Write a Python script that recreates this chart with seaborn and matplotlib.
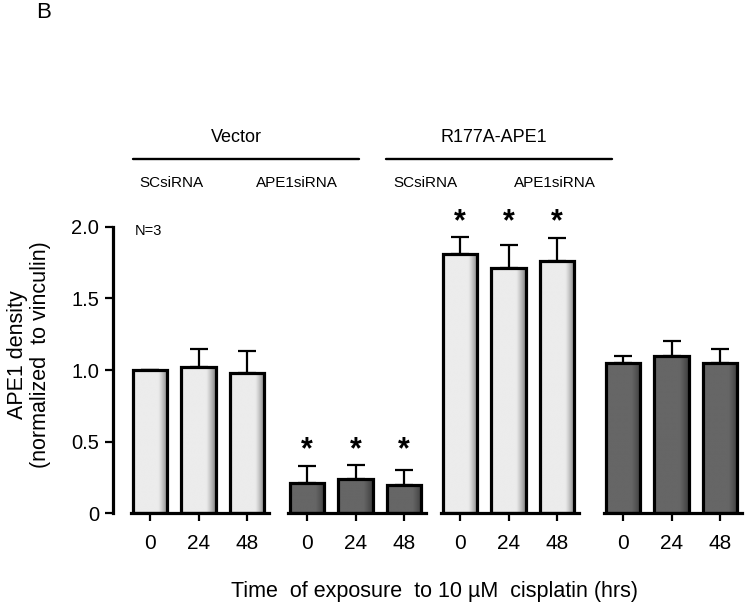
import numpy as np
import pandas as pd
import matplotlib
matplotlib.use("Agg")
import matplotlib.pyplot as plt
from matplotlib.lines import Line2D
import seaborn as sns

sns.set_theme(style="white")
plt.rcParams['font.family'] = ['Liberation Sans', 'DejaVu Sans']
plt.rcParams['text.color'] = 'black'
plt.rcParams['xtick.color'] = 'black'
plt.rcParams['ytick.color'] = 'black'

# ---------------- data ----------------
times = ["0", "24", "48"]
group_labels = ["Vector", "R177A-APE1"]
sub_labels = ["SCsiRNA", "APE1siRNA", "SCsiRNA", "APE1siRNA"]

vec_sc_mean = [1.00, 1.02, 0.98]
vec_sc_err = [0.00, 0.13, 0.15]
vec_ape_mean = [0.21, 0.24, 0.20]
vec_ape_err = [0.12, 0.10, 0.10]
r177_sc_mean = [1.81, 1.71, 1.76]
r177_sc_err = [0.12, 0.16, 0.16]
r177_ape_mean = [1.05, 1.10, 1.05]
r177_ape_err = [0.05, 0.10, 0.10]

sig_vec_sc = [False, False, False]
sig_vec_ape = [True, True, True]
sig_r177_sc = [True, True, True]
sig_r177_ape = [False, False, False]

panels = [
    (vec_sc_mean, vec_sc_err, sig_vec_sc, "light"),
    (vec_ape_mean, vec_ape_err, sig_vec_ape, "dark"),
    (r177_sc_mean, r177_sc_err, sig_r177_sc, "light"),
    (r177_ape_mean, r177_ape_err, sig_r177_ape, "dark"),
]

# ---------------- layout ----------------
W, H = 750, 607
fig = plt.figure(figsize=(W / 100, H / 100), dpi=100)

def fx(x):
    return x / W

def fy(y):
    return 1 - y / H

unit = 48.5          # px per bar slot
first_centers = [150, 307, 460, 623]
xl = (-0.40, 2.45)
y0_px, y2_px = 513.3, 226.7
ax_bottom = fy(y0_px)
ax_height = (y0_px - y2_px) / H

shades = {
    "light": (0.925, 0.50),
    "dark": (0.40, 0.24),
}

axes = []
for gi, (means, errs, sig, kind) in enumerate(panels):
    left_px = first_centers[gi] + xl[0] * unit
    width_px = (xl[1] - xl[0]) * unit
    ax = fig.add_axes([fx(left_px), ax_bottom, width_px / W, ax_height])
    axes.append(ax)
    df = pd.DataFrame({"time": times, "value": means})
    sns.barplot(data=df, x="time", y="value", order=times, ax=ax,
                color="white", saturation=1, width=0.72,
                edgecolor="black", linewidth=2.3, errorbar=None)
    # gradient shading inside bars
    base, dark = shades[kind]
    t = np.linspace(0, 1, 200)
    prof = np.where(t < 0.72, base, base + (dark - base) * ((t - 0.72) / 0.28) ** 1.2)
    grad = prof[np.newaxis, :]
    for p in list(ax.patches):
        x0, yb, w, h = p.get_x(), p.get_y(), p.get_width(), p.get_height()
        p.set_facecolor("none")
        p.set_zorder(3)
        im = ax.imshow(grad, cmap="gray", vmin=0, vmax=1, aspect="auto",
                       extent=[x0, x0 + w, yb, yb + h], zorder=2,
                       interpolation="bilinear")
        im.set_clip_path(p)
    xs = np.arange(len(times))
    ax.errorbar(xs, means, yerr=[np.zeros(len(errs)), errs], fmt="none",
                ecolor="black", elinewidth=1.6, capsize=6.5, capthick=1.6,
                zorder=1)
    if any(sig):
        top = max(m + e for m, e in zip(means, errs)) + 0.10
        for xi, s in zip(xs, sig):
            if s:
                ax.text(xi, top, "*", ha="center", va="center",
                        fontsize=22, fontweight="bold", clip_on=False)
    ax.set_xlim(*xl)
    ax.set_ylim(0, 2.0)
    ax.set_xlabel("")
    ax.set_ylabel("")
    for sp in ["top", "right"]:
        ax.spines[sp].set_visible(False)
    ax.spines["bottom"].set_linewidth(2.3)
    ax.spines["bottom"].set_color("black")
    ax.tick_params(axis="x", direction="out", length=6, width=1.6,
                   colors="black", labelsize=15, pad=9, bottom=True)
    if gi == 0:
        ax.spines["left"].set_position(("outward", 12.5))
        ax.spines["left"].set_linewidth(2.3)
        ax.spines["left"].set_color("black")
        ax.set_yticks([0, 0.5, 1.0, 1.5, 2.0])
        ax.set_yticklabels(["0", "0.5", "1.0", "1.5", "2.0"])
        ax.tick_params(axis="y", direction="out", length=6, width=1.6,
                       colors="black", labelsize=14.5, pad=4, left=True)
    else:
        ax.spines["left"].set_visible(False)
        ax.set_yticks([])
    ax.patch.set_alpha(0)

# ---------------- annotations ----------------
fig.text(fx(44), fy(12), "B", ha="center", va="center", fontsize=16)
axes[0].text(0.03, 0.985, "N=3", transform=axes[0].transAxes, fontsize=10.5,
             ha="left", va="center")

fig.text(fx(236), fy(138), "Vector", ha="center", va="center", fontsize=13)
fig.text(fx(494), fy(137), "R177A-APE1", ha="center", va="center", fontsize=13)
fig.add_artist(Line2D([fx(133), fx(359)], [fy(159), fy(159)], color="black", lw=1.7))
fig.add_artist(Line2D([fx(386), fx(612)], [fy(159), fy(159)], color="black", lw=1.7))
for xc, lab in zip([171, 297, 425, 555], sub_labels):
    fig.text(fx(xc), fy(183), lab, ha="center", va="center", fontsize=11)

fig.text(fx(29), fy(355), "APE1 density\n(normalized  to vinculin)", rotation=90,
         ha="center", va="center", fontsize=15.5, linespacing=1.1)
fig.text(fx(435), fy(592), "Time  of exposure  to 10 \u00b5M  cisplatin (hrs)",
         ha="center", va="center", fontsize=15.5)

fig.savefig("out.png", dpi=100)
